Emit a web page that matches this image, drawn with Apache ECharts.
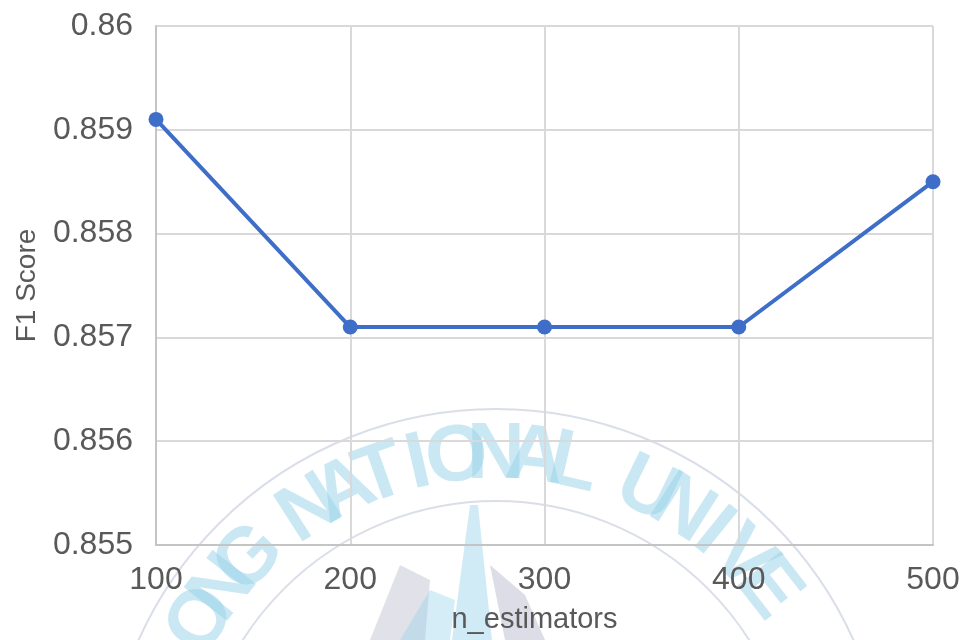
<!DOCTYPE html>
<html>
<head>
<meta charset="utf-8">
<script src="https://cdn.jsdelivr.net/npm/echarts@6/dist/echarts.min.js"></script>
<style>
    html, body { margin: 0; padding: 0; background: #fff; }
    #f1-line { width: 966px; height: 640px; }
</style>
</head>
<body>
<div id="f1-line"></div>
<script>
// 数据
const nEstimators = [100, 200, 300, 400, 500];
const f1Scores = [0.8591, 0.8571, 0.8571, 0.8571, 0.8585];
const yTicks = [0.855, 0.856, 0.857, 0.858, 0.859, 0.86];

// 水印 (背景校徽, 只是装饰)
const markLetters = ['O', 'N', 'G', '', 'N', 'A', 'T', 'I', 'O', 'N', 'A', 'L', '', 'U', 'N', 'I', 'V', 'E'];
const markCenter = [496, 801];
const markRadius = 345;

function buildWatermark() {
    let items = [];
    let startDeg = -58.5;
    let step = 6.5;
    markLetters.forEach((ch, i) => {
        if (!ch) return;
        let deg = startDeg + i * step;
        let rad = deg * Math.PI / 180;
        items.push({
            type: 'text',
            x: markCenter[0] + markRadius * Math.sin(rad),
            y: markCenter[1] - markRadius * Math.cos(rad),
            rotation: -rad,
            z: -10,
            style: {
                text: ch,
                fill: 'rgba(150, 210, 232, 0.5)',
                font: 'bold 80px "Liberation Sans", Arial, sans-serif',
                align: 'center',
                verticalAlign: 'middle'
            }
        });
    });
    // 外圈 / 内圈
    [392, 300].forEach(r => {
        items.push({
            type: 'circle',
            z: -10,
            shape: { cx: markCenter[0], cy: markCenter[1], r: r },
            style: { fill: 'none', stroke: 'rgba(150, 160, 190, 0.35)', lineWidth: 2 }
        });
    });
    // 中间的火炬和灰色月牙
    items.push({
        type: 'polygon',
        z: -10,
        shape: { points: [[470, 505], [452, 640], [492, 640], [478, 505]] },
        style: { fill: 'rgba(150, 210, 232, 0.45)' }
    });
    items.push({
        type: 'polygon',
        z: -10,
        shape: { points: [[400, 565], [370, 640], [425, 640], [430, 580]] },
        style: { fill: 'rgba(170, 170, 195, 0.35)' }
    });
    items.push({
        type: 'polygon',
        z: -10,
        shape: { points: [[490, 565], [525, 595], [545, 640], [505, 640]] },
        style: { fill: 'rgba(170, 170, 195, 0.4)' }
    });
    items.push({
        type: 'polygon',
        z: -10,
        shape: { points: [[430, 590], [400, 640], [450, 640], [455, 600]] },
        style: { fill: 'rgba(150, 210, 232, 0.4)' }
    });
    return items;
}

let myChart = echarts.init(document.getElementById('f1-line'));

let option = {
    backgroundColor: '#fff',
    animation: false,
    textStyle: {
        fontFamily: '"Liberation Sans", Arial, sans-serif'
    },
    graphic: buildWatermark(),
    grid: {
        left: 156,
        right: 33,
        top: 26,
        bottom: 95
    },
    xAxis: {
        type: 'value',
        min: 100,
        max: 500,
        interval: 100,
        name: 'n_estimators',
        nameLocation: 'middle',
        nameGap: 60,
        nameTextStyle: {
            color: '#595959',
            fontSize: 29,
            padding: [0, 20, 0, 0]
        },
        axisTick: { show: false },
        axisLine: {
            lineStyle: { color: '#c4c4c4', width: 2 }
        },
        axisLabel: {
            color: '#595959',
            fontSize: 32,
            margin: 19
        },
        splitLine: {
            show: true,
            lineStyle: { color: '#d9d9d9', width: 2 }
        }
    },
    yAxis: {
        type: 'value',
        min: yTicks[0],
        max: yTicks[yTicks.length - 1],
        interval: 0.001,
        name: 'F1 Score',
        nameLocation: 'middle',
        nameGap: 115,
        nameTextStyle: {
            color: '#595959',
            fontSize: 28
        },
        axisTick: { show: false },
        axisLine: {
            show: true,
            lineStyle: { color: '#c4c4c4', width: 2 }
        },
        axisLabel: {
            color: '#595959',
            fontSize: 32,
            margin: 23,
            formatter: v => String(parseFloat(v.toFixed(3)))
        },
        splitLine: {
            show: true,
            lineStyle: { color: '#d9d9d9', width: 2 }
        }
    },
    series: [
        {
            type: 'line',
            data: nEstimators.map((n, i) => [n, f1Scores[i]]),
            symbol: 'circle',
            symbolSize: 15,
            lineStyle: { color: '#3f6ec9', width: 4 },
            itemStyle: { color: '#3f6ec9' }
        }
    ]
};

myChart.setOption(option);
</script>
</body>
</html>
